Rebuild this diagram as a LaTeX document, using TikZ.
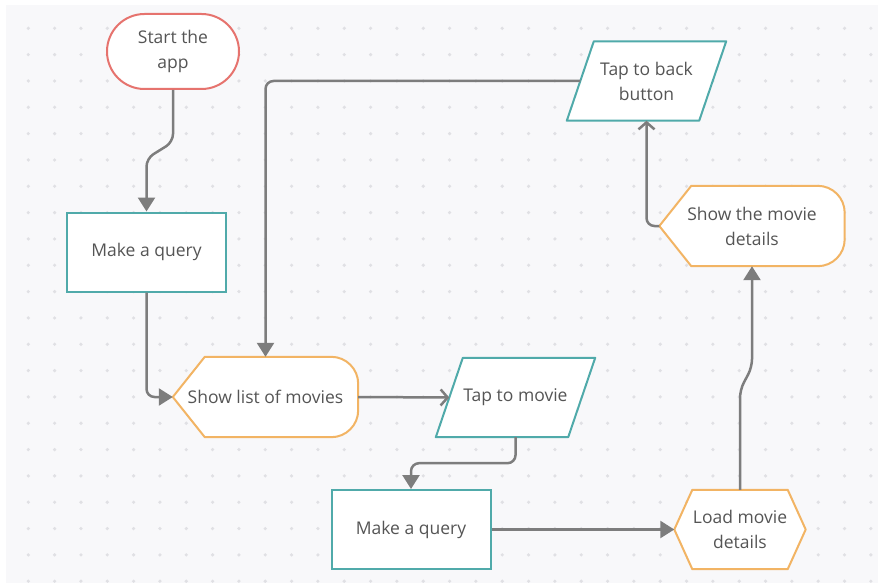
\documentclass[tikz,border=0pt]{standalone}
\usepackage{fontspec}
\setmainfont{Open Sans}
\usepackage{tikz}
\usetikzlibrary{calc,shapes.misc,arrows.meta,backgrounds}

\definecolor{paper}{RGB}{248,248,250}
\definecolor{dotgray}{RGB}{224,224,228}
\definecolor{txtgray}{RGB}{85,85,85}
\definecolor{linegray}{RGB}{125,125,125}
\definecolor{startred}{RGB}{230,115,110}
\definecolor{procteal}{RGB}{80,170,170}
\definecolor{dispyellow}{RGB}{242,180,100}

\tikzset{
  txt/.style={font=\fontsize{17.5}{25}\selectfont, text=txtgray, align=center, inner sep=0pt},
  termnode/.style={txt, rounded rectangle, draw=startred, fill=white, line width=2pt, minimum width=132, minimum height=75},
  procnode/.style={txt, rectangle, draw=procteal, fill=white, line width=2pt, minimum width=159, minimum height=79},
  ionode/.style={txt, minimum width=159, minimum height=79},
  dispnode/.style={txt, minimum width=185, minimum height=80},
  prepnode/.style={txt, minimum width=131, minimum height=79},
  outline/.style={line width=2pt, fill=white, line join=round},
  flow/.style={draw=linegray, line width=2.5pt, rounded corners=8, -{Triangle[length=14,width=17]}},
  flowopen/.style={draw=linegray, line width=2.5pt, rounded corners=8, -{Straight Barb[length=7,width=16]}}
}

\begin{document}
\begin{tikzpicture}[x=1pt,y=-1pt]
  \useasboundingbox (0,0) rectangle (878,583);

  % dotted paper
  \begin{scope}[on background layer]
    \fill[paper] (6,5) rectangle (878,583);
    \foreach \i in {0,...,32}
      \foreach \j in {0,...,21}
        \fill[dotgray] (28.3+26.33*\i,28.3+26.33*\j) circle (1.8);
  \end{scope}

  % steps
  \node[termnode] (start) at (173,51.5) {Start the\\app};
  \node[procnode] (query1) at (146.5,252) {Make a query};
  \node[dispnode] (movies) at (265.5,397) {Show list of movies};
  \node[ionode] (tapmovie) at (515.5,397.5) {Tap to movie};
  \node[procnode] (query2) at (411,529.5) {Make a query};
  \node[prepnode] (load) at (740,529.5) {Load movie\\details};
  \node[dispnode] (details) at (752,226) {Show the movie\\details};
  \node[ionode] (tapback) at (646.5,81) {Tap to back\\button};

  % outlines of the special shapes
  \begin{scope}[on background layer]
    \foreach \n in {tapmovie,tapback}
      \draw[outline, draw=procteal] ($(\n.north west)+(27,0)$) -- (\n.north east)
        -- ($(\n.south east)+(-27,0)$) -- (\n.south west) -- cycle;
    \foreach \n in {movies,details}
      \draw[outline, draw=dispyellow] (\n.west) -- ($(\n.north west)+(32,0)$)
        [rounded corners=27] -- (\n.north east) -- (\n.south east)
        [sharp corners] -- ($(\n.south west)+(32,0)$) -- cycle;
    \draw[outline, draw=dispyellow] (load.west) -- ($(load.north west)+(18,0)$)
      -- ($(load.north east)+(-18,0)$) -- (load.east) -- ($(load.south east)+(-18,0)$)
      -- ($(load.south west)+(18,0)$) -- cycle;
  \end{scope}

  % connectors
  \draw[flow] (start.south) -- ++(0,52) -- ($(query1.north)+(0,-53)$) -- (query1.north);
  \draw[flow] (query1.south) |- (movies.west);
  \draw[flowopen] (movies.east) -- ($(tapmovie.west)+(13.5,0)$);
  \draw[flow] (tapmovie.south) -- ++(0,26) -| (query2.north);
  \draw[flow] (query2.east) -- (load.west);
  \draw[flow] (load.north) -- ++(0,-100) -- ($(details.south)+(0,101)$) -- (details.south);
  \draw[flowopen] (details.west) -| (tapback.south);
  \draw[flow] ($(tapback.west)+(13.5,0)$) -| (movies.north);
\end{tikzpicture}
\end{document}
